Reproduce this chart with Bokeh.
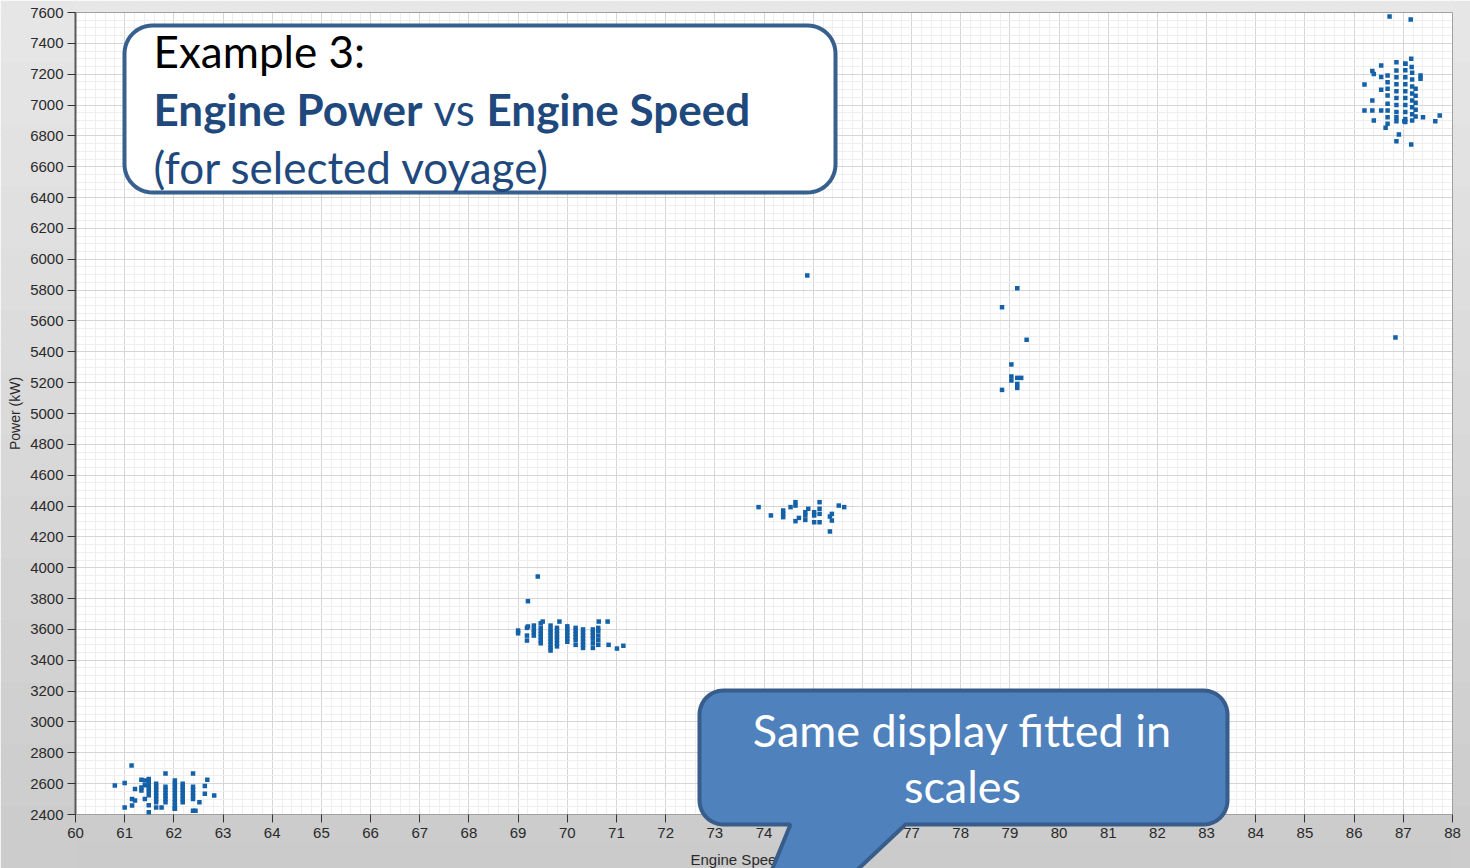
import math
from bokeh.plotting import figure
from bokeh.models import (Range1d, SingleIntervalTicker, Label, PolyAnnotation, BoxAnnotation)
from bokeh.embed import file_html
from bokeh.resources import INLINE

# ---------------- data ----------------
speed_62 = [61.14, 61.83, 62.39, 60.80, 61.00, 62.68, 62.63, 61.34, 61.41, 61.21, 61.34, 61.41,
            61.49, 61.49, 61.49, 61.49, 61.49, 61.49,
            61.64, 61.64, 61.64, 61.64, 61.64, 61.64, 61.64,
            61.83, 61.83, 61.83, 61.83, 61.83, 61.83,
            62.02, 62.02, 62.02, 62.02, 62.02, 62.02, 62.02, 62.02, 62.02, 62.02,
            62.18, 62.18, 62.18, 62.18, 62.18, 62.18, 62.18,
            62.39, 62.39, 62.39, 62.39, 62.39,
            62.63, 62.82, 61.15, 61.21, 61.34, 61.41, 61.00, 61.15, 61.49, 61.49, 61.64,
            62.02, 62.39, 62.44, 62.52, 61.75]
power_62 = [2718, 2666, 2666, 2588, 2605, 2625, 2585, 2625, 2620, 2565, 2575, 2590,
            2630, 2610, 2590, 2570, 2550, 2525,
            2600, 2580, 2560, 2540, 2520, 2500, 2480,
            2580, 2560, 2540, 2520, 2500, 2480,
            2620, 2600, 2580, 2560, 2540, 2520, 2500, 2480, 2460, 2440,
            2600, 2580, 2560, 2540, 2520, 2500, 2480,
            2580, 2560, 2540, 2520, 2500,
            2535, 2523, 2500, 2490, 2555, 2500, 2445, 2458, 2460, 2415, 2445,
            2437, 2425, 2425, 2480, 2445]

speed_70 = [69.40, 69.20, 69.50, 69.84, 70.64, 70.82, 69.20, 71.01, 71.14,
            69.00, 69.00, 69.18, 69.18, 69.18, 69.32, 69.32, 69.32, 69.32,
            69.46, 69.46, 69.46, 69.46, 69.46, 69.46, 69.46,
            69.66, 69.66, 69.66, 69.66, 69.66, 69.66, 69.66, 69.66, 69.66,
            69.79, 69.79, 69.79, 69.79, 69.79, 69.79, 69.79,
            70.00, 70.00, 70.00, 70.00, 70.00, 70.00,
            70.17, 70.17, 70.17, 70.17, 70.17, 70.17,
            70.32, 70.32, 70.32, 70.32, 70.32, 70.32, 70.32,
            70.52, 70.52, 70.52, 70.52, 70.52, 70.52,
            70.63, 70.63, 70.63, 70.63, 70.63, 70.84]
power_70 = [3943, 3783, 3651, 3651, 3651, 3651, 3619, 3476, 3494,
            3593, 3575, 3610, 3560, 3528, 3625, 3600, 3580, 3560,
            3640, 3610, 3590, 3570, 3550, 3530, 3510,
            3625, 3600, 3580, 3560, 3540, 3520, 3500, 3480, 3463,
            3610, 3590, 3570, 3550, 3530, 3510, 3490,
            3620, 3600, 3580, 3560, 3540, 3520,
            3610, 3590, 3570, 3550, 3530, 3500,
            3600, 3580, 3560, 3540, 3520, 3500, 3480,
            3600, 3580, 3560, 3540, 3510, 3480,
            3610, 3590, 3560, 3530, 3500, 3500]

speed_75 = [74.88, 73.89, 74.14, 74.39, 74.39, 74.39, 74.54, 74.64, 74.64, 74.64, 74.71,
            74.84, 74.84, 74.84, 74.90, 75.02, 75.02, 75.02, 75.13, 75.13, 75.13, 75.13,
            75.34, 75.38, 75.38, 75.34, 75.52, 75.63]
power_75 = [5895, 4393, 4339, 4371, 4349, 4328, 4393, 4425, 4403, 4302, 4323,
            4360, 4339, 4310, 4382, 4360, 4339, 4295, 4425, 4382, 4349, 4295,
            4332, 4349, 4306, 4235, 4403, 4393]

speed_79 = [79.15, 78.84, 79.34, 79.03, 79.03, 79.03, 79.15, 79.15, 79.15, 79.23, 78.84]
power_79 = [5812, 5689, 5478, 5318, 5240, 5214, 5231, 5192, 5166, 5231, 5153]

speed_87 = [86.72, 87.15, 86.84,
            87.16, 86.86, 87.04, 86.55, 87.17, 86.37, 86.40, 87.35, 87.35, 86.55, 86.21,
            86.68, 86.68, 86.68, 86.68, 86.68, 86.68, 86.68, 86.68,
            86.86, 86.86, 86.86, 86.86, 86.86, 86.86, 86.86, 86.86,
            87.04, 87.04, 87.04, 87.04, 87.04, 87.04, 87.04, 87.04, 87.04, 87.04,
            87.18, 87.18, 87.18, 87.18, 87.18, 87.18, 87.18, 87.18,
            87.25, 87.25, 87.25, 87.25, 87.25,
            86.55, 86.37, 86.21, 86.37, 86.55, 86.40, 86.64, 86.86, 87.02,
            87.40, 87.65, 87.74, 86.91, 86.86, 87.16]
power_87 = [7574, 7555, 5493,
            7300, 7278, 7267, 7256, 7246, 7220, 7202, 7191, 7170, 7181, 7133,
            7191, 7148, 7105, 7062, 7008, 6965, 6921, 6878,
            7224, 7180, 7135, 7090, 7045, 7000, 6955, 6921,
            7267, 7225, 7180, 7135, 7090, 7045, 7000, 6955, 6910, 6890,
            7210, 7165, 7120, 7075, 7030, 6985, 6940, 6900,
            7105, 7060, 7015, 6970, 6925,
            7099, 7029, 6965, 6965, 6965, 6900, 6852, 6895, 6895,
            6921, 6895, 6932, 6809, 6766, 6744]

speed = speed_62 + speed_70 + speed_75 + speed_79 + speed_87
power = power_62 + power_70 + power_75 + power_79 + power_87

X_MIN, X_MAX = 60, 88
Y_MIN, Y_MAX = 2400, 7600
x_title = "Engine Speed"
y_title = "Power (kW)"

# ---------------- layout geometry (page pixels) ----------------
W, H = 1470, 868
FL, FR, FT, FB = 75, 1452, 12, 814   # where the data area sits on the page


def dx(X):
    return X_MIN + (X - FL) * (X_MAX - X_MIN) / (FR - FL)


def dy(Y):
    return Y_MAX - (Y - FT) * (Y_MAX - Y_MIN) / (FB - FT)


# the frame covers the whole canvas; axes are pinned to the data area's edges
p = figure(width=W, height=H, output_backend="svg", toolbar_location=None,
           x_range=Range1d(dx(0), dx(W)), y_range=Range1d(dy(H), dy(0)),
           min_border=0, min_border_left=0, min_border_right=0,
           min_border_top=0, min_border_bottom=0)
p.title.visible = False
p.background_fill_color = "white"
p.border_fill_color = "#d8d8d8"
p.outline_line_color = None

p.xaxis.ticker = SingleIntervalTicker(interval=1, num_minor_ticks=5)
p.yaxis.ticker = SingleIntervalTicker(interval=200, num_minor_ticks=4)
p.xaxis.bounds = (X_MIN, X_MAX)
p.yaxis.bounds = (Y_MIN, Y_MAX)
p.xaxis.fixed_location = Y_MIN
p.yaxis.fixed_location = X_MIN

for ax in (p.xaxis, p.yaxis):
    ax.major_label_text_font = "Liberation Sans"
    ax.major_label_text_font_size = "15px"
    ax.major_label_text_color = "#2a2a2a"
    ax.major_tick_line_color = "#333333"
    ax.major_tick_in = 0
    ax.minor_tick_line_color = None

p.xaxis.major_tick_out = 8
p.xaxis.major_label_standoff = 5
p.xaxis.axis_line_color = None
p.yaxis.major_tick_out = 8
p.yaxis.major_label_standoff = 4
p.yaxis.axis_line_color = "#5a5a5a"
p.yaxis.axis_line_width = 2

p.xgrid.grid_line_color = "#d6d6d6"
p.ygrid.grid_line_color = "#d6d6d6"
p.xgrid.minor_grid_line_color = "#eeeeee"
p.ygrid.minor_grid_line_color = "#eeeeee"


# gray panel around the data area (vertical gradient, as on the slide)
def gray(Y):
    t = max(0.0, min(1.0, Y / H))
    v = int(round(231 - (231 - 203) * t))
    return "#%02x%02x%02x" % (v, v, v)


def gbox(x0, x1, y0, y1, col):
    p.add_layout(BoxAnnotation(left=dx(x0), right=dx(x1), top=dy(y0), bottom=dy(y1),
                               fill_color=col, fill_alpha=1.0, line_color=None,
                               level="underlay"))


step = 31
for Y0 in range(0, H, step):
    Y1 = min(H, Y0 + step + 1)
    c = gray(Y0 + step / 2)
    gbox(0, FL, Y0, Y1, c)
    gbox(FR, W, Y0, Y1, c)
gbox(FL - 1, FR + 1, 0, FT, gray(6))
gbox(FL - 1, FR + 1, FB, 842, gray(828))
gbox(FL - 1, FR + 1, 841, H, gray(855))
p.add_layout(BoxAnnotation(left=X_MIN, right=X_MAX, top=Y_MAX, bottom=Y_MIN,
                           fill_color=None, line_color="#a0a0a0", line_alpha=1.0,
                           line_width=1, level="underlay"))

p.scatter(speed, power, marker="square", size=4.5, fill_color="#1461a8", line_color=None)

# axis titles
p.add_layout(Label(x=dx(14), y=dy(413), text=y_title, angle=math.pi / 2,
                   text_font="Liberation Sans", text_font_size="14px", text_color="#2a2a2a",
                   text_align="center", text_baseline="middle"))
p.add_layout(Label(x=dx(690), y=dy(859), text=x_title, text_font="Liberation Sans",
                   text_font_size="15px", text_color="#2a2a2a", text_align="left",
                   text_baseline="alphabetic"))


# ---------------- callouts ----------------
def callout(x0, y0, x1, y1, r, tail=None, n=12):
    corners = [((x0 + r, y0 + r), 180, 270), ((x1 - r, y0 + r), 270, 360),
               ((x1 - r, y1 - r), 0, 90), ((x0 + r, y1 - r), 90, 180)]
    pts = []
    for i, ((cx, cy), a0, a1) in enumerate(corners):
        for k in range(n + 1):
            a = math.radians(a0 + (a1 - a0) * k / n)
            pts.append((cx + r * math.cos(a), cy + r * math.sin(a)))
        if i == 2 and tail is not None:
            pts.extend(tail)
    return [dx(a) for a, _ in pts], [dy(b) for _, b in pts]


xs, ys = callout(124, 25, 835, 192, 28)
p.add_layout(PolyAnnotation(xs=xs, ys=ys, fill_color="white", fill_alpha=1.0,
                            line_color="#37608f", line_alpha=1.0, line_width=4))

xs, ys = callout(699, 690, 1227, 824, 24,
                 tail=[(905, 824), (718, 1000), (790, 824)])
p.add_layout(PolyAnnotation(xs=xs, ys=ys, fill_color="#4f81bd", fill_alpha=1.0,
                            line_color="#385d8a", line_alpha=1.0, line_width=4))

FONT = "Lato"
BLUE = "#1f497d"
texts = [
    ("Example 3:", 153, 50, "normal", "black", "left", "44px"),
    ("Engine Power", 153, 108, "bold", BLUE, "left", "44px"),
    ("vs", 433, 108, "normal", BLUE, "left", "44px"),
    ("Engine Speed", 486, 108, "bold", BLUE, "left", "44px"),
    ("(for selected voyage)", 153, 166, "normal", BLUE, "left", "44px"),
    ("Same display fitted in", 962, 729, "normal", "white", "center", "45px"),
    ("scales", 962, 785, "normal", "white", "center", "45px"),
]
for t, X, Y, style, col, align, fs in texts:
    p.add_layout(Label(x=dx(X), y=dy(Y), text=t, text_font=FONT, text_font_size=fs,
                       text_font_style=style, text_color=col, text_align=align,
                       text_baseline="alphabetic"))

open("out.html", "w").write(file_html(p, INLINE))
